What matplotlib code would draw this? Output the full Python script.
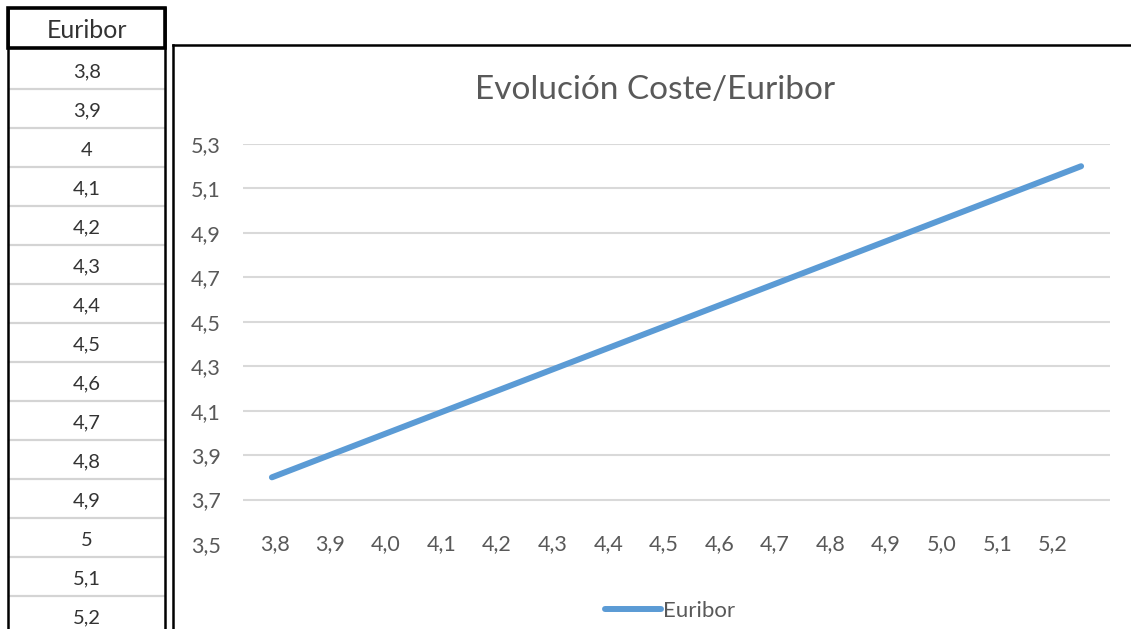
import numpy as np
import matplotlib
matplotlib.use("Agg")
import matplotlib.pyplot as plt
from matplotlib.patches import Rectangle

plt.rcParams["font.family"] = ["Lato", "DejaVu Sans"]

# datos
euribor = [3.8, 3.9, 4.0, 4.1, 4.2, 4.3, 4.4, 4.5, 4.6, 4.7, 4.8, 4.9, 5.0, 5.1, 5.2]
categorias = [f"{v:.1f}".replace(".", ",") for v in euribor]
celdas = [f"{v:g}".replace(".", ",") for v in euribor]
y_ticks = [3.5, 3.7, 3.9, 4.1, 4.3, 4.5, 4.7, 4.9, 5.1, 5.3]
titulo = "Evolución Coste/Euribor"
serie = "Euribor"

W, H = 1131, 629
gris = "#595959"
azul = "#5b9bd5"

fig = plt.figure(figsize=(W / 100, H / 100), dpi=100)

# capa de fondo en pixeles (hoja de calculo + marco del grafico)
bg = fig.add_axes([0, 0, 1, 1])
bg.set_xlim(0, W); bg.set_ylim(H, 0); bg.axis("off")

# columna de la tabla
row_h = 39
top_rows = 49
for i in range(1, len(celdas) + 1):
    y = top_rows + i * row_h + 1
    bg.plot([9, 164], [y, y], color="#d4d4d4", lw=1.6, zorder=1)
for i, t in enumerate(celdas):
    bg.text(87, top_rows + i * row_h + 23, t, ha="center", va="center",
            fontsize=14.5, color="#333333")
bg.plot([8, 8], [8, H], color="black", lw=1.8, zorder=3)
bg.plot([164.5, 164.5], [8, H], color="black", lw=1.8, zorder=3)
bg.add_patch(Rectangle((7.5, 8), 157, 40, fill=False, ec="black", lw=2.6, zorder=4))
bg.text(87, 30, "Euribor", ha="center", va="center", fontsize=18, color="#333333")

# marco del grafico
bg.plot([173, 173], [45, H], color="black", lw=1.8)
bg.plot([173, W], [45, 45], color="black", lw=1.8)

# area de trazado
ax = fig.add_axes([243 / W, (H - 544) / H, 867 / W, 400 / H])
ax.patch.set_alpha(0)
x = np.arange(len(euribor))
ax.plot(x, euribor, color=azul, lw=4.3, solid_capstyle="round", label=serie, zorder=3)
ax.set_xlim(-0.5, len(euribor) - 0.5)
ax.set_ylim(y_ticks[0], y_ticks[-1])
ax.set_yticks(y_ticks)
ax.set_yticklabels([f"{v:.1f}".replace(".", ",") for v in y_ticks])
for v in y_ticks[1:]:
    ax.axhline(v, color="#d9d9d9", lw=1.5, zorder=1)

# las etiquetas del eje X en la captura van algo mas juntas que los puntos
ax.set_xticks(x * 0.9616 + 0.05)
ax.set_xticklabels(categorias)
for s in ax.spines.values():
    s.set_visible(False)
ax.tick_params(axis="both", length=0, labelsize=15.5, labelcolor=gris)
ax.tick_params(axis="y", pad=16)
ax.tick_params(axis="x", pad=-7)

fig.text(655 / W, 1 - 90 / H, titulo, ha="center", va="center", fontsize=24, color=gris)
ax.legend(loc="center", bbox_to_anchor=(670 / W, 1 - 611 / H),
          bbox_transform=fig.transFigure, frameon=False, fontsize=16,
          labelcolor=gris, handlelength=2.5, handletextpad=0.1)

fig.savefig("out.png", dpi=100)
